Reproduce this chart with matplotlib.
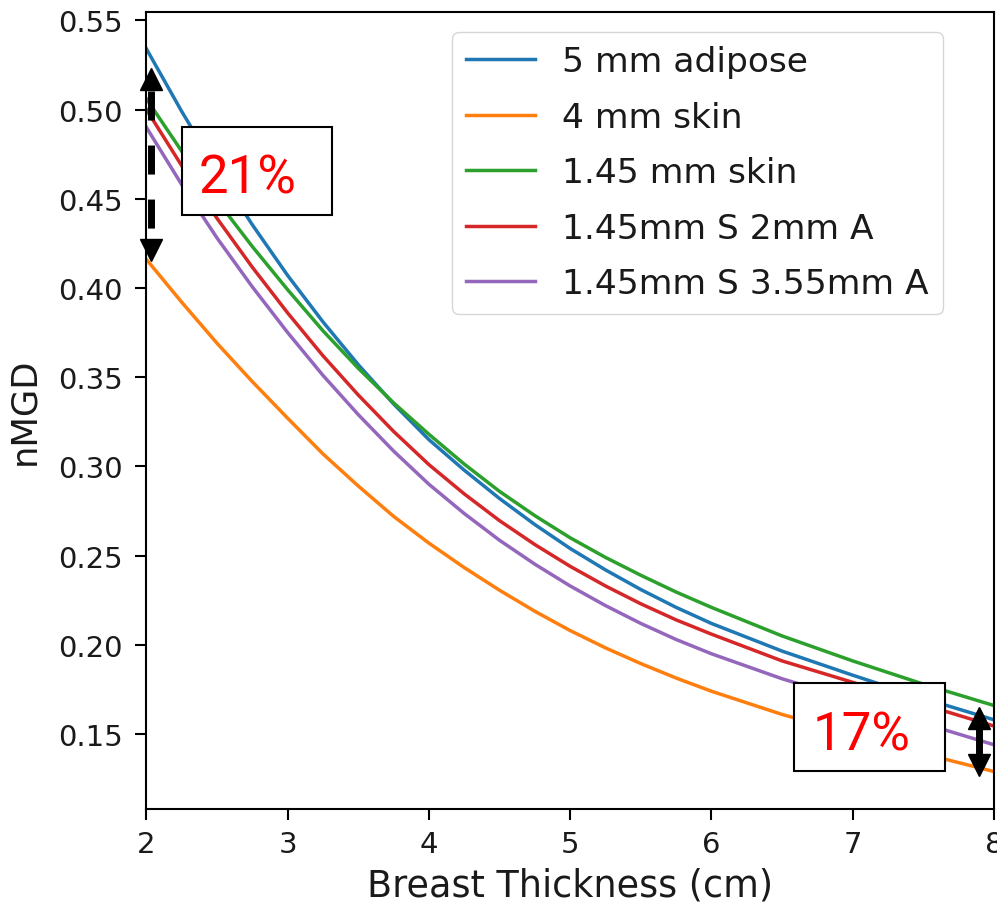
import matplotlib
matplotlib.use("Agg")
import matplotlib.pyplot as plt
from matplotlib.patches import Rectangle

plt.rcParams['lines.scale_dashes'] = False

# ---- data ----
thickness = [2.0, 2.25, 2.5, 2.75, 3.0, 3.25, 3.5, 3.75, 4.0, 4.25, 4.5, 4.75,
             5.0, 5.25, 5.5, 5.75, 6.0, 6.5, 7.0, 7.5, 8.0]
adipose_5mm = [0.534, 0.4989, 0.466, 0.4354, 0.407, 0.381, 0.357, 0.335, 0.315, 0.2979, 0.282, 0.2674,
               0.254, 0.242, 0.231, 0.221, 0.212, 0.1965, 0.183, 0.170, 0.158]
skin_4mm = [0.416, 0.392, 0.369, 0.3475, 0.327, 0.307, 0.289, 0.272, 0.257, 0.2433, 0.2306, 0.2188,
            0.208, 0.1983, 0.1895, 0.1814, 0.174, 0.161, 0.150, 0.139, 0.129]
skin_145mm = [0.506, 0.4766, 0.449, 0.4232, 0.399, 0.376, 0.355, 0.3356, 0.318, 0.3013, 0.286, 0.2724,
              0.260, 0.249, 0.239, 0.2296, 0.221, 0.205, 0.191, 0.178, 0.166]
s145_a2 = [0.500, 0.4685, 0.439, 0.4116, 0.386, 0.362, 0.340, 0.3196, 0.301, 0.2846, 0.2696, 0.2562,
           0.244, 0.233, 0.223, 0.214, 0.206, 0.191, 0.179, 0.1665, 0.1545]
s145_a355 = [0.490, 0.4579, 0.428, 0.4006, 0.375, 0.351, 0.329, 0.3086, 0.290, 0.2736, 0.2586, 0.2452,
             0.233, 0.222, 0.212, 0.203, 0.195, 0.181, 0.169, 0.156, 0.144]

series = [adipose_5mm, skin_4mm, skin_145mm, s145_a2, s145_a355]
labels = ["5 mm adipose", "4 mm skin", "1.45 mm skin", "1.45mm S 2mm A", "1.45mm S 3.55mm A"]
colors = ["#1f77b4", "#ff7f0e", "#2ca02c", "#d62728", "#9467bd"]

x_ticks = [2, 3, 4, 5, 6, 7, 8]
y_ticks = [0.15, 0.20, 0.25, 0.30, 0.35, 0.40, 0.45, 0.50, 0.55]

# annotations
ann_texts = ["21%", "17%"]

fig = plt.figure(figsize=(9.97, 9.03), dpi=100)
ax = fig.add_axes([0.1469, 0.1030, 0.8500, 0.8826])

for ys, lab, c in zip(series, labels, colors):
    ax.plot(thickness, ys, color=c, lw=2.5, label=lab, zorder=2,
            solid_joinstyle='round')

ax.set_xlim(2, 8)
ax.set_ylim(0.108, 0.5547)
ax.set_xticks(x_ticks)
ax.set_yticks(y_ticks)
ax.set_yticklabels([f"{v:.2f}" for v in y_ticks])
ax.tick_params(axis='both', labelsize=21, length=8, width=1.5, color='black', labelcolor='#1a1a1a')
ax.tick_params(axis='y', pad=9)
ax.tick_params(axis='x', pad=7)
for s in ax.spines.values():
    s.set_linewidth(1.5)

ax.set_xlabel("Breast Thickness (cm)", fontsize=26.3, labelpad=6, color='#1a1a1a')
ax.set_ylabel("nMGD", fontsize=25.5, labelpad=12, color='#1a1a1a')

# --- 21% annotation (left) ---
ax.add_patch(Rectangle((2.2535, 0.4411), 3.316 - 2.2535, 0.4904 - 0.4411,
                       facecolor='white', edgecolor='black', lw=1.5, zorder=4))
ax.text(2.717, 0.4538, ann_texts[0], color='#ff0000', fontsize=38, family=['Roboto', 'DejaVu Sans'],
        ha='center', va='baseline', zorder=5)
ax.plot([2.03, 2.03], [0.5104, 0.4275], color='black', lw=5, linestyle=(0, (20.9, 18.0)),
        solid_capstyle='butt', dash_capstyle='butt', zorder=6, clip_on=False)
ax.plot([2.03], [0.5169], marker='^', color='black', markersize=16, zorder=6, clip_on=False)
ax.plot([2.03], [0.4213], marker='v', color='black', markersize=16, zorder=6, clip_on=False)

# --- 17% annotation (right) ---
ax.add_patch(Rectangle((6.585, 0.1291), 7.654 - 6.585, 0.17843 - 0.1291,
                       facecolor='white', edgecolor='black', lw=1.5, zorder=4))
ax.text(7.060, 0.1416, ann_texts[1], color='#ff0000', fontsize=38, family=['Roboto', 'DejaVu Sans'],
        ha='center', va='baseline', zorder=5)
ax.plot([7.891, 7.891], [0.1590, 0.1324], color='black', lw=5, solid_capstyle='butt', zorder=6)
ax.plot([7.891], [0.1590], marker='^', color='black', markersize=16, zorder=6)
ax.plot([7.891], [0.1324], marker='v', color='black', markersize=16, zorder=6)

leg = ax.legend(loc='upper right', bbox_to_anchor=(0.9398, 0.9753), borderaxespad=0,
                fontsize=24.8, labelspacing=0.65, handlelength=2.0, handletextpad=0.8,
                fancybox=True, framealpha=0.8, edgecolor='#cccccc')
leg.set_zorder(10)
for t in leg.get_texts():
    t.set_color('#1a1a1a')

fig.savefig("out.png", dpi=100)
